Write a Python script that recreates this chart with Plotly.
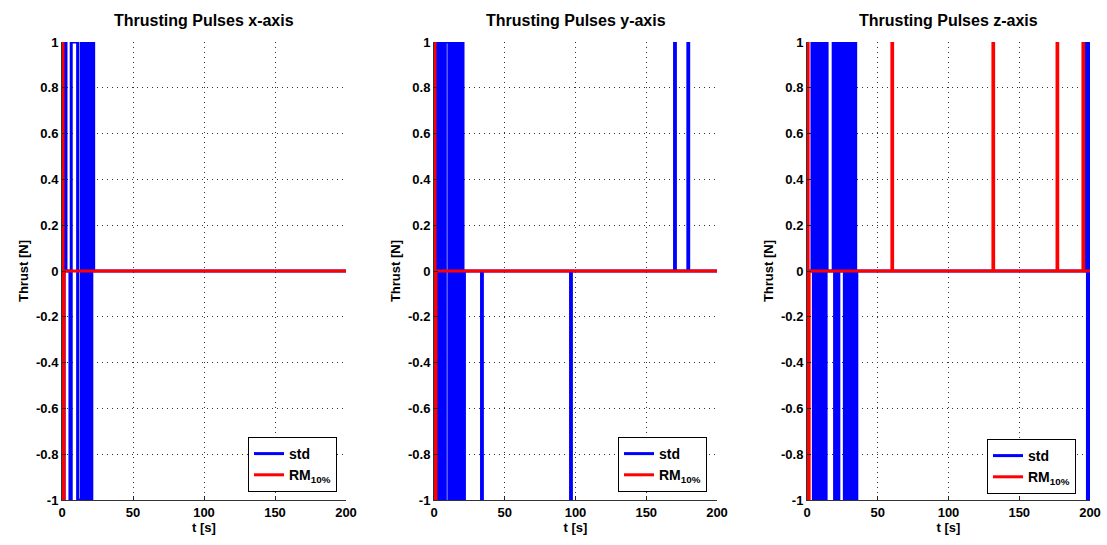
import plotly.graph_objects as go

# Thruster command histories: switching instants [s] and the level held from each instant on
T_END = 200

x_std_t = [0, 1.5, 2.8, 5.6, 6.5, 11, 13.5, 15, 16.2, 17.5, 18.5, 19.7, 21, 22.3]
x_std_v = [-1, 1, 0, -1, 1, -1, 1, -1, 1, -1, 1, -1, 1, 0]
x_rm_t = [0, 0.7, 1.4]
x_rm_v = [1, -1, 0]

y_std_t = [0, 2, 3.5, 5.5, 7, 8, 10.5, 11.5, 12.5, 13.5, 14.5, 15.5, 16.5, 17.5,
           18.5, 19.5, 20.5, 21.5, 33.6, 34.2, 96.5, 97.1, 170, 170.6, 179.4, 180]
y_std_v = [-1, 1, -1, 1, -1, 1, -1, 1, -1, 1, -1, 1, -1, 1,
           -1, 1, -1, 0, -1, 0, -1, 0, 1, 0, 1, 0]
y_rm_t = [0, 0.7, 1.4]
y_rm_v = [1, -1, 0]

z_std_t = [0, 3.5, 4.5, 5.5, 6.5, 7.5, 8.5, 9.5, 10.5, 11.5, 12.5, 13.5, 14.2,
           18.5, 19.5, 20.5, 21.5, 22.5, 23.3,
           25.4, 26.4, 27.4, 28.4, 29.4, 30.4, 31.4, 32.4, 33.4, 34.4, 35.2,
           197.3, 198.2, 199.1]
z_std_v = [0, 1, -1, 1, -1, 1, -1, 1, -1, 1, -1, 1, 0,
           1, -1, 1, -1, 1, 0,
           1, -1, 1, -1, 1, -1, 1, -1, 1, -1, 0,
           1, -1, 1]
z_rm_t = [0, 0.8, 1.5, 60, 60.5, 131.4, 131.9, 176.7, 177.2, 195, 195.5]
z_rm_v = [1, -1, 0, 1, 0, 1, 0, 1, 0, 1, 0]

axis_names = ["x", "y", "z"]
series = [
    (x_std_t, x_std_v, x_rm_t, x_rm_v),
    (y_std_t, y_std_v, y_rm_t, y_rm_v),
    (z_std_t, z_std_v, z_rm_t, z_rm_v),
]

x_ticks = [0, 50, 100, 150, 200]
y_ticks = [1, 0.8, 0.6, 0.4, 0.2, 0, -0.2, -0.4, -0.6, -0.8, -1]
y_tick_text = ["1", "0.8", "0.6", "0.4", "0.2", "0", "-0.2", "-0.4", "-0.6", "-0.8", "-1"]

BLUE = "#0000FF"
RED = "#FF0000"
FONT = "Liberation Sans"
W, H = 1107, 545

# plot-area placement (pixels) for the three panels
x_px = [(62, 346), (434, 717), (807, 1090)]
y_px = (42, 500)
legend_box = [(337, 492), (707, 492), (1076, 494)]

fig = go.Figure()


def stairs(t, v):
    return list(t) + [T_END], list(v) + [v[-1]]


def bold(size):
    return dict(family=FONT, size=size, color="black", weight="bold")


for i, (st, sv, rt, rv) in enumerate(series):
    sfx = "" if i == 0 else str(i + 1)
    leg = "legend" + sfx
    xs, ys = stairs(st, sv)
    fig.add_trace(go.Scatter(
        x=xs, y=ys, mode="lines", line=dict(color=BLUE, width=3, shape="hv"),
        name="std", xaxis="x" + sfx, yaxis="y" + sfx, legend=leg,
    ))
    xr, yr = stairs(rt, rv)
    fig.add_trace(go.Scatter(
        x=xr, y=yr, mode="lines", line=dict(color=RED, width=3, shape="hv"),
        name="RM<sub>10%</sub>", xaxis="x" + sfx, yaxis="y" + sfx, legend=leg,
    ))

    x0, x1 = x_px[i]
    xdom = [x0 / W, x1 / W]
    ydom = [(H - y_px[1]) / H, (H - y_px[0]) / H]
    common = dict(
        ticks="inside", ticklen=4, tickcolor="#222",
        showline=True, linecolor="#333", linewidth=1, mirror=False,
        showgrid=True, gridcolor="#333", griddash="1px,4px", gridwidth=1,
        zeroline=False, tickfont=bold(13), automargin=False,
    )
    fig.update_layout({
        "xaxis" + sfx: dict(
            domain=xdom, anchor="y" + sfx, range=[0, T_END],
            tickvals=x_ticks, ticktext=[str(v) for v in x_ticks],
            title=dict(text="t [s]", standoff=3, font=bold(13)),
            **common,
        ),
        "yaxis" + sfx: dict(
            domain=ydom, anchor="x" + sfx, range=[-1, 1],
            tickvals=y_ticks, ticktext=y_tick_text,
            title=dict(text="Thrust [N]", standoff=4, font=bold(13)),
            **common,
        ),
        leg: dict(
            x=legend_box[i][0] / W, y=(H - legend_box[i][1]) / H,
            xanchor="right", yanchor="bottom",
            bgcolor="white", bordercolor="black", borderwidth=1,
            font=bold(14), tracegroupgap=0,
        ),
    })
    fig.add_annotation(
        text="Thrusting Pulses %s-axis" % axis_names[i],
        xref="paper", yref="paper", x=(x0 + x1) / 2 / W, y=1 - 20 / H,
        xanchor="center", yanchor="middle", showarrow=False,
        font=bold(16),
    )

fig.update_layout(
    width=W, height=H, margin=dict(l=0, r=0, t=0, b=0),
    paper_bgcolor="white", plot_bgcolor="white",
    showlegend=True,
)

fig.write_html("out.html")
